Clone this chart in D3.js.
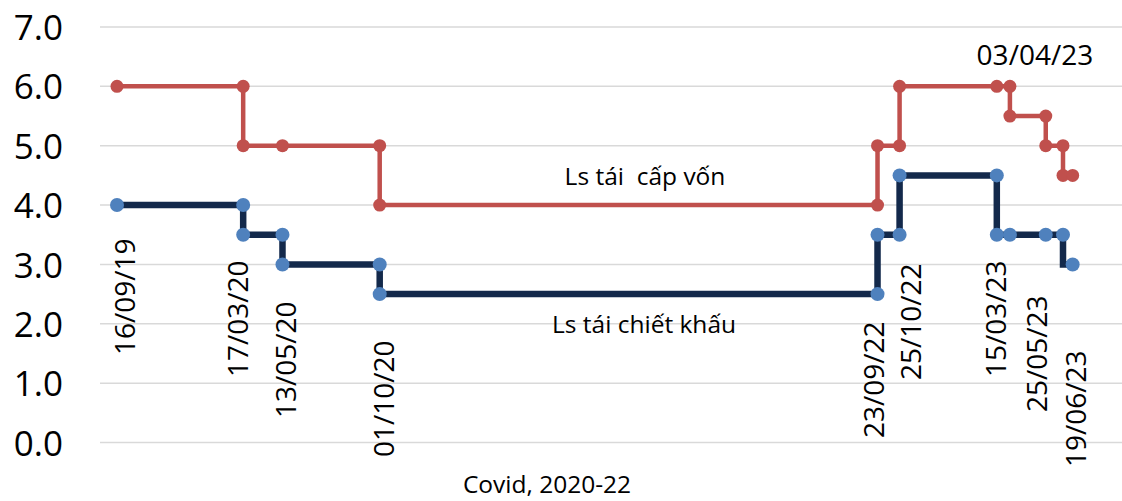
<!DOCTYPE html>
<html>
<head>
<meta charset="utf-8">
<script src="https://cdn.jsdelivr.net/npm/d3@7"></script>
<style>
  body { margin: 0; background: #fff; }
  svg text { font-family: "Open Sans", "Noto Sans", sans-serif; fill: #000; white-space: pre; }
</style>
</head>
<body>
<svg id="chart" width="1122" height="501"></svg>
<script>
// ---- data (dates are dd/mm/yy, rates in %) ----
const parseDate = d3.timeParse("%d/%m/%y");

// refinancing rate: each change date appears twice (old value, new value)
const refiDates  = ["16/09/19","17/03/20","17/03/20","13/05/20","01/10/20","01/10/20","23/09/22","23/09/22",
                    "25/10/22","25/10/22","15/03/23","03/04/23","03/04/23","25/05/23","25/05/23","19/06/23","19/06/23","03/07/23"];
const refiValues = [6.0, 6.0, 5.0, 5.0, 5.0, 4.0, 4.0, 5.0,
                    5.0, 6.0, 6.0, 6.0, 5.5, 5.5, 5.0, 5.0, 4.5, 4.5];

// rediscount rate
const rediscDates  = ["16/09/19","17/03/20","17/03/20","13/05/20","13/05/20","01/10/20","01/10/20","23/09/22","23/09/22",
                      "25/10/22","25/10/22","15/03/23","15/03/23","03/04/23","25/05/23","19/06/23","03/07/23"];
const rediscValues = [4.0, 4.0, 3.5, 3.5, 3.0, 3.0, 2.5, 2.5, 3.5,
                      3.5, 4.5, 4.5, 3.5, 3.5, 3.5, 3.5, 3.0];

const yTicks = [0, 1, 2, 3, 4, 5, 6, 7];

// dates that carry a label on the chart
const labelDates = ["16/09/19","17/03/20","13/05/20","01/10/20","23/09/22","25/10/22","15/03/23","25/05/23","19/06/23"];
const topLabelDate = "03/04/23";

const seriesNames = ["Ls tái  cấp vốn", "Ls tái chiết khấu"];
const periodNote = "Covid, 2020-22";

// ---- layout (hand placed, as in the original) ----
// [dx from the date's x to the text baseline, y of the text start]
const labelLayout = [[18, 355], [5, 377], [14, 418], [14, 457], [6, 438], [21, 380], [9, 377], [1, 412], [23, 467]];

const svg = d3.select("#chart");

const x = d3.scaleTime()
  .domain([parseDate("16/09/19"), parseDate("19/06/23")])
  .range([117, 1063]);

const y = d3.scaleLinear()
  .domain([0, 7])
  .range([442.5, 27]);

// gridlines
svg.append("g")
  .selectAll("line")
  .data(yTicks)
  .join("line")
  .attr("x1", 100)
  .attr("x2", 1122)
  .attr("y1", d => y(d))
  .attr("y2", d => y(d))
  .attr("stroke", "#d9d9d9")
  .attr("stroke-width", 1.5);

// y axis labels
const yAxis = svg.append("g")
  .attr("transform", "translate(63,0)")
  .call(d3.axisLeft(y).tickValues(yTicks).tickFormat(d3.format(".1f")).tickSize(0).tickPadding(0));
yAxis.select(".domain").remove();
yAxis.selectAll("text")
  .attr("font-size", 35)
  .attr("dy", "0.36em")
  .style("font-family", "'Open Sans', sans-serif");

function toPoints(dates, values) {
  return dates.map((d, i) => ({ date: parseDate(d), value: values[i] }));
}

const refi = toPoints(refiDates, refiValues);
const redisc = toPoints(rediscDates, rediscValues);

const line = d3.line()
  .x(d => x(d.date))
  .y(d => y(d.value))
  .curve(d3.curveStepBefore);

function drawSeries(points, lineColor, lineWidth, markerColor, r) {
  svg.append("path")
    .datum(points)
    .attr("d", line)
    .attr("fill", "none")
    .attr("stroke", lineColor)
    .attr("stroke-width", lineWidth)
    .attr("stroke-linejoin", "miter");
  svg.append("g")
    .selectAll("circle")
    .data(points)
    .join("circle")
    .attr("cx", d => x(d.date))
    .attr("cy", d => y(d.value))
    .attr("r", r)
    .attr("fill", markerColor);
}

drawSeries(redisc, "#13294b", 6.5, "#4f81bd", 7);
drawSeries(refi, "#c0504d", 4.5, "#c0504d", 6.5);

// rotated date labels
svg.append("g")
  .selectAll("text")
  .data(labelDates)
  .join("text")
  .attr("transform", (d, i) => `translate(${x(parseDate(d)) + labelLayout[i][0]},${labelLayout[i][1]}) rotate(-90)`)
  .attr("font-size", 28)
  .text(d => d);

// horizontal label above the chart
svg.append("text")
  .attr("x", x(parseDate(topLabelDate)) + 25)
  .attr("y", 65)
  .attr("text-anchor", "middle")
  .attr("font-size", 28)
  .text(topLabelDate);

// series annotations
svg.append("text")
  .attr("x", 645).attr("y", 185)
  .attr("text-anchor", "middle")
  .attr("font-size", 24.5)
  .text(seriesNames[0]);

svg.append("text")
  .attr("x", 644).attr("y", 333)
  .attr("text-anchor", "middle")
  .attr("font-size", 24.5)
  .text(seriesNames[1]);

svg.append("text")
  .attr("x", 547).attr("y", 493)
  .attr("text-anchor", "middle")
  .attr("font-size", 24.5)
  .text(periodNote);
</script>
</body>
</html>
